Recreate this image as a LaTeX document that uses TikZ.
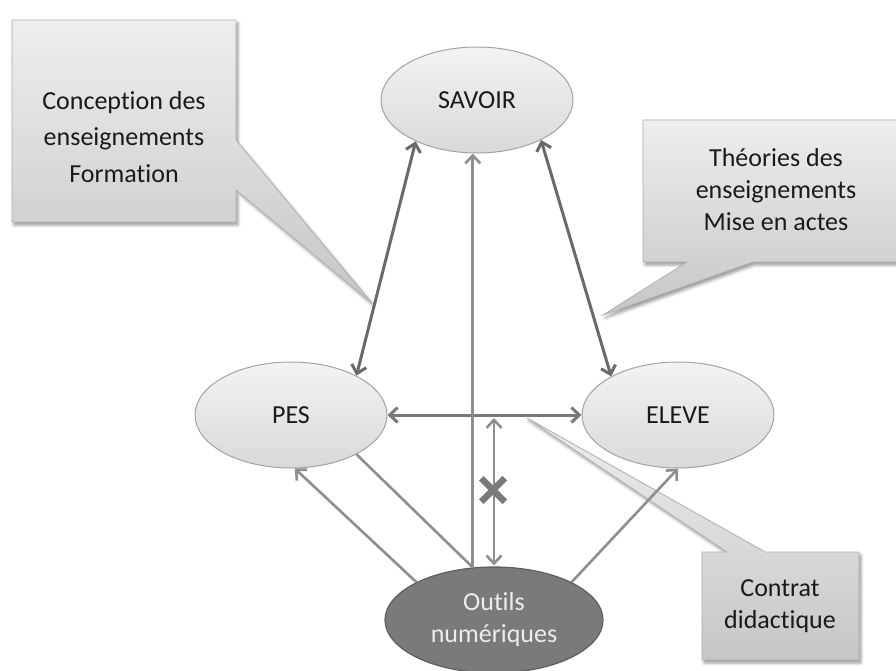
\documentclass[tikz,border=0pt]{standalone}
\usepackage{fontspec}
\setmainfont{Carlito}[Ligatures=NoCommon]
\usetikzlibrary{shapes.geometric,shapes.misc,arrows.meta,shadows.blur}
\definecolor{ellbd}{HTML}{A3A3A3}
\definecolor{ellt}{HTML}{F3F3F3}
\definecolor{ellb}{HTML}{D9D9D9}
\definecolor{outf}{HTML}{7A7A7A}
\definecolor{outbd}{HTML}{5E5E5E}
\definecolor{outtx}{HTML}{EDEDED}
\definecolor{boxt}{HTML}{EEEEEE}
\definecolor{boxb}{HTML}{C6C6C6}
\definecolor{boxbd}{HTML}{B0B0B0}
\definecolor{darkln}{HTML}{6A6A6A}
\definecolor{midln}{HTML}{787878}
\definecolor{lightln}{HTML}{8E8E8E}
\definecolor{xcol}{HTML}{7A7A7A}
\definecolor{txt}{HTML}{1A1A1A}
\begin{document}
\begin{tikzpicture}[x=1pt,y=-1pt,
  every node/.style={font=\fontsize{26}{32}\selectfont, text=txt},
  ell/.style={ellipse, minimum width=192pt, minimum height=106pt, inner sep=0pt,
    draw=ellbd, line width=1pt, top color=ellt, bottom color=ellb},
  outell/.style={ellipse, minimum width=218pt, minimum height=106pt, inner sep=0pt,
    draw=outbd, line width=1.2pt, fill=outf, text=outtx, align=center},
  callbox/.style={draw=boxbd, line width=0.8pt, top color=boxt, bottom color=boxb,
    blur shadow={shadow xshift=2pt, shadow yshift=-3pt, shadow blur radius=3pt}},
  calltext/.style={align=center, inner sep=0pt},
  darkarr/.style={line width=3pt, draw=darkln, {Straight Barb[length=8pt, width=15pt]}-{Straight Barb[length=8pt, width=15pt]}},
  midarr/.style={line width=3pt, draw=midln},
  lightarr/.style={line width=2.6pt, draw=lightln},
  xmark/.style={cross out, draw=xcol, line width=6.5pt, minimum size=17pt, inner sep=0pt}
]
\useasboundingbox (0,0) rectangle (896,671);

% callouts
\path[callbox] (12,20) -- (236,20) -- (236,140) -- (372,303) -- (236,190) -- (236,222) -- (12,222) -- cycle;
\node[calltext, font=\fontsize{26}{36.5}\selectfont] (t1) at (124,137) {Conception des\\enseignements\\Formation};

\path[callbox] (643,120) -- (905,120) -- (905,262) -- (753,262) -- (603,315) -- (687,262) -- (643,262) -- cycle;
\node[calltext] (t2) at (776,190) {Théories des\\enseignements\\Mise en actes};

\path[callbox] (702,552) -- (727,552) -- (527,418) -- (765,552) -- (859,552) -- (859,660) -- (702,660) -- cycle;
\node[calltext] (t3) at (780,606) {Contrat\\didactique};

% ellipses
\node[ell] (sav) at (477,100) {SAVOIR};
\node[ell] (pes) at (291,415) {PES};
\node[ell] (ele) at (678,415) {ELEVE};
\node[outell] (out) at (494,620) {Outils\\numériques};

% connectors
\draw[darkarr] (sav.214) -- (pes.31);
\draw[darkarr] (sav.-32) -- (ele.150);
\draw[midarr, {Straight Barb[length=8pt, width=15pt]}-{Straight Barb[length=8pt, width=15pt]}] (pes.east) -- (ele.west);
\draw[lightarr, -{Straight Barb[length=8pt, width=15pt]}] (out.112) -- (out.112 |- sav.south);
\draw[lightarr, {Straight Barb[length=8pt, width=15pt]}-{Straight Barb[length=8pt, width=15pt]}, shorten <=1pt] (out.north) -- ([yshift=-3pt]out.north |- pes.east);
\draw[lightarr, -{Straight Barb[length=8pt, width=15pt]}] (out.154) -- (pes.-86);
\draw[lightarr] (pes.-31) -- (out.112);
\draw[lightarr, -{Straight Barb[length=8pt, width=15pt]}] (out.26) -- (ele.south);

\node[xmark] (xm) at (493,490) {};
\end{tikzpicture}
\end{document}
